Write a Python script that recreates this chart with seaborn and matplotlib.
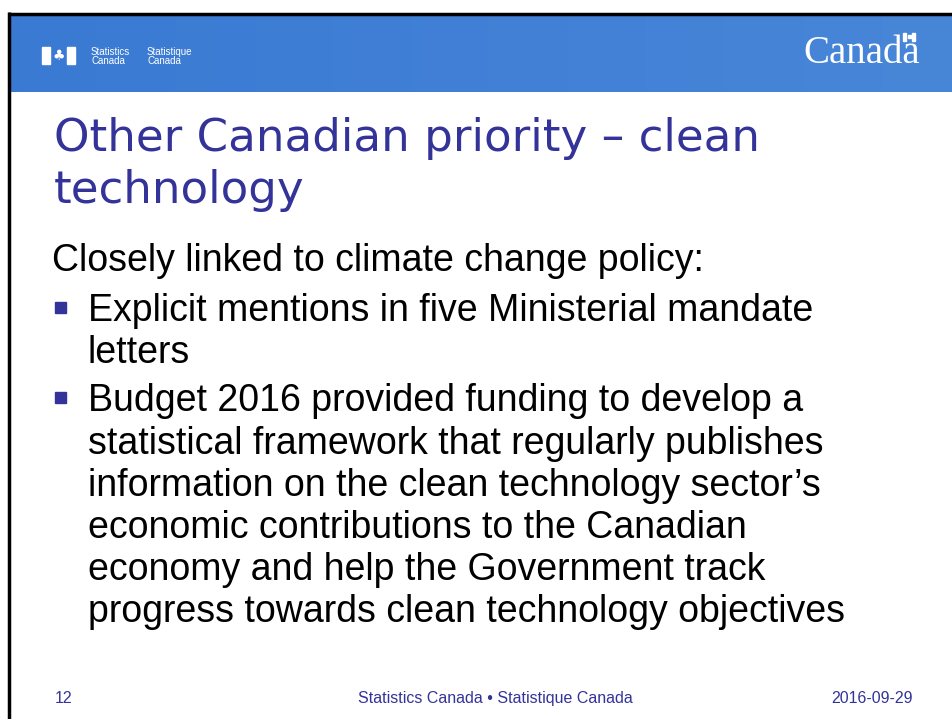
"""
Statistics Canada slide 12 - Other Canadian priority: clean technology
Rebuilt as a text-only figure on a pixel-coordinate axes.
"""
import numpy as np
import matplotlib
matplotlib.use('Agg')
import matplotlib.pyplot as plt
from matplotlib.patches import Rectangle
import seaborn as sns

sns.set_style("white")
plt.rcParams['font.family'] = ['Liberation Sans', 'DejaVu Sans']

# Colour palette
HEADER_LEFT = (0.227, 0.478, 0.827)
HEADER_RIGHT = (0.282, 0.525, 0.847)
NAVY = '#333399'
BULLET = '#333399'

# Slide content
title_lines = ["Other Canadian priority \u2013 clean", "technology"]
intro_line = "Closely linked to climate change policy:"
bullets = [
    ["Explicit mentions in five Ministerial mandate", "letters"],
    ["Budget 2016 provided funding to develop a",
     "statistical framework that regularly publishes",
     "information on the clean technology sector\u2019s",
     "economic contributions to the Canadian",
     "economy and help the Government track",
     "progress towards clean technology objectives"],
]
logo_words = [["Statistics", "Canada"], ["Statistique", "Canada"]]
wordmark = "Canada"
footer_page = "12"
footer_mid = "Statistics Canada \u2022 Statistique Canada"
footer_date = "2016-09-29"

W, H = 952, 719
fig = plt.figure(figsize=(W / 100, H / 100), dpi=100)
ax = fig.add_axes([0, 0, 1, 1])
ax.set_xlim(0, W)
ax.set_ylim(H, 0)
ax.axis('off')

# Header band with a slight left-to-right gradient
grad = np.linspace(0, 1, 256)[None, :, None]
band = np.array(HEADER_LEFT)[None, None, :] * (1 - grad) + np.array(HEADER_RIGHT)[None, None, :] * grad
ax.imshow(band, extent=(9, W, 92, 14), aspect='auto', zorder=1)

# Slide frame (top and left edge visible)
ax.plot([8, W], [13.5, 13.5], color='black', lw=2.5, zorder=3, solid_capstyle='butt')
ax.plot([8.5, 8.5], [12, H], color='black', lw=2.5, zorder=3, solid_capstyle='butt')

# FIP logo: two bars and a leaf
ax.add_patch(Rectangle((42, 47), 8, 17, color='white', zorder=4))
ax.add_patch(Rectangle((67, 47), 8, 17, color='white', zorder=4))
ax.text(58.5, 56, "\u2663", color='white', fontsize=10, ha='center', va='center',
        family=['DejaVu Sans'], zorder=4)
for (w1, w2), x0 in zip(logo_words, [91, 147]):
    ax.text(x0, 55, w1, color='white', fontsize=7, ha='left', va='baseline', zorder=4)
    ax.text(x0, 64, w2, color='white', fontsize=7, ha='left', va='baseline', zorder=4)

# Canada wordmark with small flag over the last letter
ax.text(803, 63, wordmark, color='white', fontsize=28, ha='left', va='baseline',
        family=['Liberation Serif'], zorder=4)
ax.add_patch(Rectangle((903, 33), 3, 8, color='white', zorder=4))
ax.add_patch(Rectangle((912, 33), 3, 8, color='white', zorder=4))
ax.add_patch(Rectangle((907.5, 35), 3, 3, color='white', zorder=4))

# Title
for i, line in enumerate(title_lines):
    ax.text(54, 151 + i * 52, line, color=NAVY, fontsize=32.5, ha='left', va='baseline',
            family=['DejaVu Sans'], zorder=4)

# Intro line
ax.text(52, 271, intro_line, color='black', fontsize=27, ha='left', va='baseline', zorder=4)

# Bullets
y = 321
for block in bullets:
    ax.add_patch(Rectangle((55, y - 19), 10.5, 10.5, color=BULLET, zorder=4))
    for line in block:
        ax.text(88, y, line, color='black', fontsize=27, ha='left', va='baseline', zorder=4)
        y += 42.2
    y += 6

# Footer
foot_font = ['Liberation Sans Narrow', 'Liberation Sans']
ax.text(55, 703, footer_page, color=NAVY, fontsize=11.5, ha='left', va='baseline', family=foot_font)
ax.text(358, 703, footer_mid, color=NAVY, fontsize=11.5, ha='left', va='baseline', family=foot_font)
ax.text(913, 703, footer_date, color=NAVY, fontsize=11.5, ha='right', va='baseline', family=foot_font)

fig.savefig('out.png', dpi=100, facecolor='white')
plt.close(fig)
